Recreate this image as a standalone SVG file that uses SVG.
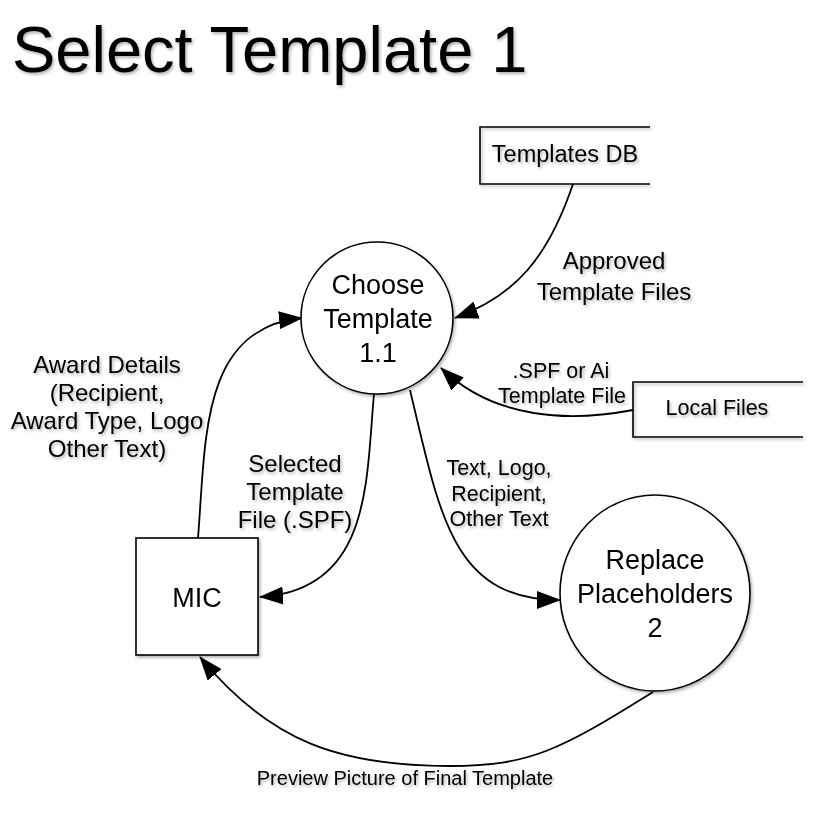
<svg xmlns="http://www.w3.org/2000/svg" width="820" height="826" viewBox="0 0 820 826">
  <style>
    text { font-family: "Liberation Sans", Arial, Helvetica, sans-serif; fill: #000; text-anchor: middle; }
    .title { font-size: 65px; text-anchor: start; }
    .node { fill: #fff; stroke: #000; stroke-width: 1.6; }
    .store { fill: none; stroke: #000; stroke-width: 1.6; }
    .edge { fill: none; stroke: #000; stroke-width: 1.8; marker-end: url(#arrow); }
    .big { font-size: 27px; }
    .lbl { font-size: 24px; }
    .sm { font-size: 21.5px; }
  </style>
  <defs>
    <marker id="arrow" markerUnits="userSpaceOnUse" markerWidth="24" markerHeight="18" viewBox="0 0 24 18" refX="23" refY="9" orient="auto">
      <path d="M0,0 L24,9 L0,18 Z" fill="#000"/>
    </marker>
    <filter id="sh" x="-10%" y="-10%" width="130%" height="130%">
      <feDropShadow dx="1.5" dy="2" stdDeviation="1.5" flood-color="#000" flood-opacity="0.3"/>
    </filter>
  </defs>
  <rect width="820" height="826" fill="#fff"/>

  <text class="title" x="12" y="72" filter="url(#sh)">Select Template 1</text>

  <g id="connectors">
    <path id="e-db-choose" class="edge" d="M573,184 C548,258 515,296 455,318"/>
    <path id="e-local-choose" class="edge" d="M633,410 C570,422 495,420 441,368"/>
    <path id="e-mic-choose" class="edge" d="M198,538 C206,440 200,328 302,318"/>
    <path id="e-choose-mic" class="edge" d="M374,394 C366,480 372,590 260,597"/>
    <path id="e-choose-replace" class="edge" d="M410,390 C440,515 452,600 560,600"/>
    <path id="e-replace-mic" class="edge" d="M653,692 C560,750 530,766 450,766 C340,766 270,742 200,657"/>
  </g>

  <g id="labels" filter="url(#sh)">
    <text class="lbl" x="614" y="269">Approved</text>
    <text class="lbl" x="614" y="300">Template Files</text>
    <text class="sm" x="561" y="378">.SPF or Ai</text>
    <text class="sm" x="562" y="403">Template File</text>
    <text class="lbl" x="107" y="373">Award Details</text>
    <text class="lbl" x="107" y="401">(Recipient,</text>
    <text class="lbl" x="107" y="429">Award Type, Logo</text>
    <text class="lbl" x="107" y="457">Other Text)</text>
    <text class="lbl" x="295" y="472">Selected</text>
    <text class="lbl" x="295" y="500">Template</text>
    <text class="lbl" x="295" y="528">File (.SPF)</text>
    <text class="sm" x="499" y="475">Text, Logo,</text>
    <text class="sm" x="499" y="501">Recipient,</text>
    <text class="sm" x="499" y="526">Other Text</text>
    <text style="font-size:20px" x="405" y="785">Preview Picture of Final Template</text>
  </g>

  <g id="node-templates-db" filter="url(#sh)">
    <path class="store" d="M650,127 L480,127 L480,184 L650,184"/>
    <text style="font-size:23.5px" x="565" y="162">Templates DB</text>
  </g>

  <g id="node-local-files" filter="url(#sh)">
    <path class="store" d="M803,382 L633,382 L633,437 L803,437"/>
    <text class="sm" x="717" y="415">Local Files</text>
  </g>

  <g id="node-choose" filter="url(#sh)">
    <circle class="node" cx="377" cy="318" r="76"/>
    <text class="big" x="378" y="294">Choose</text>
    <text class="big" x="378" y="328">Template</text>
    <text class="big" x="378" y="362">1.1</text>
  </g>

  <g id="node-mic" filter="url(#sh)">
    <rect class="node" x="136" y="538" width="122" height="117"/>
    <text class="big" x="197" y="607">MIC</text>
  </g>

  <g id="node-replace" filter="url(#sh)">
    <ellipse class="node" cx="655" cy="593" rx="95" ry="98"/>
    <text class="big" x="655" y="569">Replace</text>
    <text class="big" x="655" y="603">Placeholders</text>
    <text class="big" x="655" y="637">2</text>
  </g>
</svg>
